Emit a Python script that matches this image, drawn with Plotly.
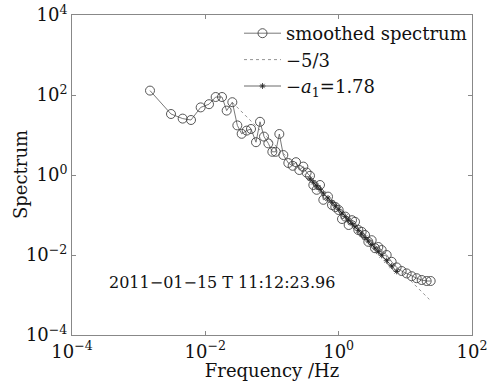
import numpy as np
import plotly.graph_objects as go

# smoothed spectrum (log10 frequency, log10 spectrum)
log_freq = [-2.83, -2.515, -2.34, -2.215, -2.07, -1.945, -1.845, -1.75, -1.68, -1.595,
            -1.52, -1.455, -1.38, -1.315, -1.24, -1.18, -1.12, -1.055, -0.995, -0.945,
            -0.89, -0.83, -0.755, -0.69, -0.64, -0.59, -0.53, -0.48, -0.43, -0.38,
            -0.33, -0.28, -0.23, -0.16, -0.10, -0.05, 0.00, 0.05, 0.10, 0.15,
            0.20, 0.245, 0.295, 0.345, 0.395, 0.445, 0.495, 0.545, 0.595, 0.645,
            0.72, 0.795, 0.87, 0.945, 1.02, 1.095, 1.17, 1.245, 1.32, 1.38]
log_spec = [2.11, 1.525, 1.41, 1.375, 1.69, 1.77, 1.95, 1.95, 1.61, 1.82,
            1.24, 1.03, 1.11, 1.15, 0.82, 1.33, 0.96, 0.79, 0.58, 0.58,
            1.025, 0.50, 0.30, 0.23, 0.32, 0.125, 0.21, 0.06, -0.02, -0.25,
            -0.37, -0.25, -0.62, -0.54, -0.75, -0.80, -0.875, -1.10, -1.04, -1.25,
            -1.13, -1.17, -1.375, -1.42, -1.50, -1.67, -1.63, -1.83, -1.80, -1.875,
            -2.00, -2.17, -2.31, -2.40, -2.46, -2.53, -2.58, -2.625, -2.65, -2.65]

# -5/3 reference line endpoints (log10 f) and intercept
ref_logf = [-1.595, 1.36]
ref_slope = -5.0 / 3.0
ref_icpt = -0.843

# fitted line with slope -a1
a1 = 1.78
fit_icpt = -0.86
fit_logf = [-0.43, -0.38, -0.33, -0.28, -0.23, -0.16, -0.10, -0.05, 0.00, 0.05, 0.10,
            0.15, 0.20, 0.245, 0.295, 0.345, 0.395, 0.445, 0.495, 0.545, 0.595,
            0.645, 0.72, 0.795, 0.87]

# tick labels
x_tick_exp = [-4, -2, 0, 2]
y_tick_exp = [-4, -2, 0, 2, 4]

annot_text = "2011\u221201\u221215 T 11:12:23.96"

def tlabel(e):
    return "10<sup>" + (("\u2212" + str(-e)) if e < 0 else str(e)) + "</sup>"

f = 10 ** np.array(log_freq)
s = 10 ** np.array(log_spec)
rf = 10 ** np.array(ref_logf)
rs = 10 ** (ref_icpt + ref_slope * np.array(ref_logf))
ff = 10 ** np.array(fit_logf)
fs = 10 ** (fit_icpt - a1 * np.array(fit_logf))

FONT = "DejaVu Serif"
fig = go.Figure()
fig.add_trace(go.Scatter(
    x=f, y=s, mode="lines+markers", name="smoothed spectrum",
    line=dict(color="#555555", width=0.8),
    marker=dict(symbol="circle-open", size=9, color="#444444", line=dict(width=0.9, color="#444444"))))
fig.add_trace(go.Scatter(
    x=rf, y=rs, mode="lines", name="\u22125/3",
    line=dict(color="#777777", width=0.8, dash="dot")))
fig.add_trace(go.Scatter(
    x=ff, y=fs, mode="lines+markers", name="\u2212<i>a</i><sub>1</sub>=1.78",
    line=dict(color="#444444", width=0.8),
    marker=dict(symbol="asterisk-open", size=5, color="#222222", line=dict(width=0.8, color="#222222"))))

fig.add_annotation(text=annot_text, xref="paper", yref="paper", x=0.0875, y=0.163,
                   xanchor="left", yanchor="middle", showarrow=False,
                   font=dict(family=FONT, size=16, color="#111111"))
fig.add_annotation(text="Spectrum", xref="paper", yref="paper", x=(20 - 72) / 400, y=0.5,
                   xanchor="center", yanchor="middle", showarrow=False, textangle=-90,
                   font=dict(family=FONT, size=18, color="#111111"))

axis_common = dict(type="log", showgrid=False, zeroline=False, showline=True,
                   linecolor="#888888", linewidth=1, mirror="ticks", ticks="inside",
                   ticklen=4, tickcolor="#888888", automargin=False,
                   tickfont=dict(family=FONT, size=18, color="#111111"))
fig.update_xaxes(range=[-4, 2], tickvals=[10.0 ** e for e in x_tick_exp],
                 ticktext=[tlabel(e) for e in x_tick_exp],
                 title=dict(text="Frequency /Hz", standoff=2,
                            font=dict(family=FONT, size=18, color="#111111")), **axis_common)
fig.update_yaxes(range=[-4, 4], tickvals=[10.0 ** e for e in y_tick_exp],
                 ticktext=[tlabel(e) for e in y_tick_exp], **axis_common)

fig.update_layout(
    width=504, height=381,
    margin=dict(l=72, r=32, t=15, b=46),
    paper_bgcolor="white", plot_bgcolor="white",
    font=dict(family=FONT, size=16, color="#111111"),
    legend=dict(x=1, y=1, xanchor="right", yanchor="top", bgcolor="rgba(0,0,0,0)",
                borderwidth=0,
                font=dict(family=FONT, size=18, color="#111111"),
                tracegroupgap=0, itemwidth=37),
    showlegend=True,
)
fig.write_html("out.html")
